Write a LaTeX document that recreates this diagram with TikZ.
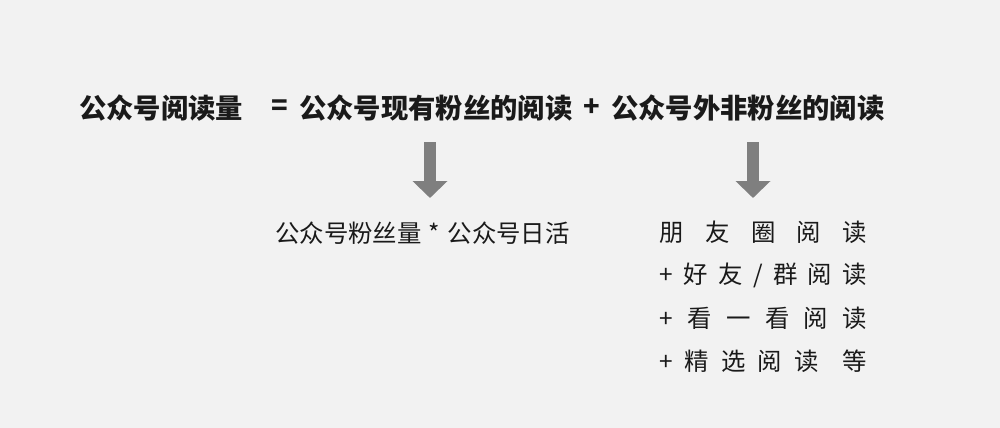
\documentclass[tikz,border=0pt]{standalone}
\usepackage{fontspec}
\setmainfont{Noto Sans CJK SC}
\usetikzlibrary{arrows.meta}
\definecolor{bggray}{HTML}{F2F2F2}
\definecolor{arrowgray}{HTML}{7F7F7F}
\definecolor{textdark}{HTML}{1A1A1A}

\tikzset{
  mainterm/.style = {anchor = west, inner sep = 0pt, text = textdark,
                     font = \fontsize{20.5pt}{24pt}\selectfont\bfseries},
  subterm/.style  = {anchor = west, inner sep = 0pt, text = textdark,
                     font = \fontsize{18.3pt}{22pt}\selectfont},
  bigarrow/.style = {arrowgray, line width = 9pt,
                     -{Triangle[width = 25.5pt, length = 12.75pt]}}
}

\newcommand{\spreadline}[1]{\makebox[156pt][s]{#1}}

\begin{document}
\begin{tikzpicture}[x = 0.75pt, y = -0.75pt]

    \fill[bggray] (0,0) rectangle (1000,428);
    \useasboundingbox (0,0) rectangle (1000,428);

    % top line
    \node[mainterm] (total)  at (79,108)  {公众号阅读量};
    \node[mainterm] (eq)     at (271,108) {=};
    \node[mainterm] (fans)   at (299,108) {公众号现有粉丝的阅读};
    \node[mainterm] (plus)   at (583,108) {+};
    \node[mainterm] (others) at (611,108) {公众号外非粉丝的阅读};

    % left branch
    \node[subterm] (formula) at (275,233) {公众号粉丝量\hspace{0.3em}*\hspace{0.3em}公众号日活};

    % right branch
    \node[subterm] (src1) at (659,232) {\spreadline{朋\hfill 友\hfill 圈\hfill 阅\hfill 读}};
    \node[subterm] (src2) at (659,275) {\spreadline{+\hfill 好\hfill 友\hfill /\hfill 群\hfill 阅\hfill 读}};
    \node[subterm] (src3) at (659,318) {\spreadline{+\hfill 看\hfill 一\hfill 看\hfill 阅\hfill 读}};
    \node[subterm] (src4) at (659,361) {\spreadline{+\hfill 精\hfill 选\hfill 阅\hfill 读\hfill\hfill 等}};

    \coordinate (fansdown)   at (430,142);
    \coordinate (fansend)    at (430,198);
    \coordinate (othersdown) at (753,142);
    \coordinate (othersend)  at (753,198);

    \draw[bigarrow] (fansdown) -- (fansend);
    \draw[bigarrow] (othersdown) -- (othersend);

\end{tikzpicture}
\end{document}
